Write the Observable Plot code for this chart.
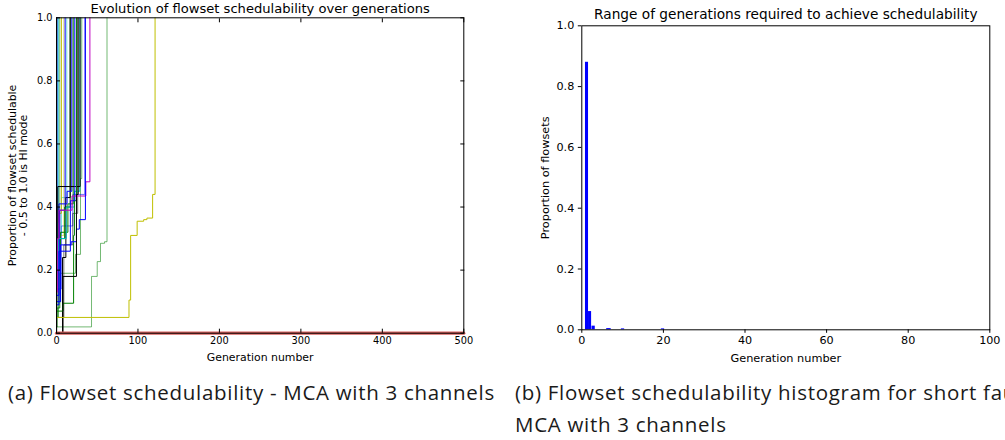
<!DOCTYPE html>
<html><head><meta charset="utf-8">
<script src="https://cdn.jsdelivr.net/npm/d3@7"></script>
<script src="https://cdn.jsdelivr.net/npm/@observablehq/plot@0.6"></script>
<style>
body{margin:0;background:#fff;}
#wrap{position:relative;width:1005px;height:440px;overflow:hidden;background:#fff;}
#left{position:absolute;left:0;top:0;}
#right{position:absolute;left:505px;top:0;}
#wrap svg, #wrap svg text{font-family:"DejaVu Sans", sans-serif !important;}
.cap{position:absolute;font-family:"Open Sans", sans-serif;font-size:20.5px;letter-spacing:0.7px;line-height:20px;color:#1a1a1a;white-space:nowrap;}
</style></head>
<body><div id="wrap"><div id="left"></div><div id="right"></div>
<div class="cap" style="left:8px;top:382px">(a) Flowset schedulability - MCA with 3 channels</div>
<div class="cap" style="left:515px;top:382px">(b) Flowset schedulability histogram for short fault</div>
<div class="cap" style="left:515px;top:414px">MCA with 3 channels</div>
</div>
<script>
// ---------- left chart data ----------
const titleL = "Evolution of flowset schedulability over generations";
const xLabel = "Generation number";
const yLabelL = "Proportion of flowset schedulable\n- 0.5 to 1.0 is HI mode";
const xTicksL = [0, 100, 200, 300, 400, 500];
const yTicks = [0, 0.2, 0.4, 0.6, 0.8, 1.0];

// opaque runs
const runColors = ["m","k","b","y","c","b","g","k","b","g","c","k","g","b","m","b","k","y"];
const runGens = [
  [0, 0.3], [0, 0.2], [0, 0.5], [0, 2, 6], [0, 1, 2], [0, 4, 10.6], [0, 2, 10, 16.8],
  [0, 7.4, 11.5, 16.8], [0, 3, 13, 18.8], [0, 5, 14, 20.5], [0, 2, 12, 22, 28.6],
  [0, 1.6, 29], [0, 8, 21, 22, 24.6], [0, 3, 17, 22.5], [0, 1, 3, 19, 36, 41],
  [0, 5, 18, 24.5, 28, 35.5], [0, 8, 24.5, 26.6],
  [0, 89, 91, 99, 107, 111, 118, 121]
];
const runProps = [
  [0.1, 1], [0, 1], [0.3, 1], [0.29, 0.38, 1], [0.25, 0.35, 1], [0.2, 0.39, 1], [0.05, 0.3, 0.4, 1],
  [0, 0.24, 0.43, 1], [0.12, 0.41, 0.45, 1], [0.1, 0.32, 0.41, 1], [0.2, 0.3, 0.4, 0.45, 1],
  [0.3, 0.465, 1], [0.07, 0.095, 0.31, 0.42, 1], [0.09, 0.26, 0.42, 1], [0.13, 0.3, 0.39, 0.435, 0.48, 1],
  [0.1, 0.28, 0.29, 0.33, 0.36, 1], [0, 0.18, 0.44, 1],
  [0.05, 0.105, 0.31, 0.355, 0.36, 0.365, 0.44, 1]
];
// translucent runs
const fadedColors = ["g","g","b","k","c","y","g"];
const fadedGens = [
  [0, 1, 4], [0, 4, 23.3, 29.5, 31], [0, 6, 20, 34.7], [0, 9, 20, 26], [0, 1, 6, 12.6], [0, 3, 9],
  [0, 43, 50, 54, 59, 62]
];
const fadedProps = [
  [0.02, 0.08, 1], [0.08, 0.19, 0.25, 0.49, 1], [0.14, 0.34, 0.44, 1], [0.05, 0.28, 0.38, 1],
  [0.15, 0.31, 0.43, 1], [0.2, 0.31, 1],
  [0.02, 0.18, 0.227, 0.285, 0.29, 1]
];
// never schedulable
const neverGens = [0, 500];
const neverProps = [0, 0];

// ---------- right chart data ----------
const titleR = "Range of generations required to achieve schedulability";
const yLabelR = "Proportion of flowsets";
const xTicksR = [0, 20, 40, 60, 80, 100];
const binLo = [0.9, 1.65, 2.5, 6.1, 9.7, 19.5];
const binHi = [1.65, 2.4, 3.3, 7.2, 10.5, 20.3];
const binProp = [0.88, 0.06, 0.012, 0.004, 0.003, 0.003];

// ---------- build ----------
const palette = {b:"#0000ff", g:"#008000", r:"#ff0000", c:"#00bfbf", m:"#bf00bf", y:"#bfbf00", k:"#000000"};
function rows(gens, props, colors) {
  const out = [];
  gens.forEach((g, i) => g.forEach((x, j) => out.push({run: i, gen: x, prop: props[i][j], color: palette[colors[i]]})));
  return out;
}
const opaqueRows = rows(runGens, runProps, runColors);
const fadedRows = rows(fadedGens, fadedProps, fadedColors);
const neverRows = neverGens.map((g, i) => ({gen: g, prop: neverProps[i]}));

const blank = () => "";

const left = Plot.plot({
  width: 500, height: 370,
  marginLeft: 56, marginRight: 36.7, marginTop: 17.3, marginBottom: 37.3,
  style: "background: white; color: black; font-size: 10px; overflow: visible;",
  x: {domain: [0, 500]},
  y: {domain: [0, 1]},
  color: {type: "identity"},
  marks: [
    Plot.line(fadedRows, {x: "gen", y: "prop", z: "run", stroke: "color", strokeOpacity: 0.55, strokeWidth: 1, curve: "step-after"}),
    Plot.line(opaqueRows, {x: "gen", y: "prop", z: "run", stroke: "color", strokeWidth: 1, curve: "step-after"}),
    Plot.line(neverRows, {x: "gen", y: "prop", stroke: "#d9625f", strokeWidth: 3.2}),
    Plot.frame({stroke: "black", strokeWidth: 1}),
    Plot.axisX(xTicksL, {anchor: "bottom", tickSize: 0, tickPadding: 3.5, label: null, fontSize: 9.8}),
    Plot.axisX(xTicksL, {anchor: "bottom", tickSize: -4, tickFormat: blank, label: null}),
    Plot.axisX(xTicksL, {anchor: "top", tickSize: -4, tickFormat: blank, label: null}),
    Plot.axisY(yTicks, {anchor: "left", tickSize: 0, tickPadding: 4, tickFormat: ".1f", label: null, fontSize: 9.8}),
    Plot.axisY(yTicks, {anchor: "left", tickSize: -4, tickFormat: blank, label: null}),
    Plot.axisY(yTicks, {anchor: "right", tickSize: -4, tickFormat: blank, label: null}),
    Plot.text([titleL], {frameAnchor: "top", lineAnchor: "middle", dy: -9.3, fontSize: 13.1}),
    Plot.text([xLabel], {frameAnchor: "bottom", lineAnchor: "middle", dy: 24, fontSize: 10.9}),
    Plot.text([yLabelL], {frameAnchor: "left", textAnchor: "middle", lineAnchor: "middle", rotate: -90, dx: -38.5, fontSize: 10.9, lineHeight: 1.06})
  ]
});
document.getElementById("left").append(left);

const bins = binLo.map((lo, i) => ({lo, hi: binHi[i], prop: binProp[i]}));
const right = Plot.plot({
  width: 500, height: 370,
  marginLeft: 76.3, marginRight: 15.7, marginTop: 25.3, marginBottom: 40.7,
  style: "background: white; color: black; font-size: 10px; overflow: visible;",
  x: {domain: [0, 100]},
  y: {domain: [0, 1]},
  marks: [
    Plot.rectY(bins, {x1: "lo", x2: "hi", y: "prop", fill: "#0000ff"}),
    Plot.frame({stroke: "black", strokeWidth: 1}),
    Plot.axisX(xTicksR, {anchor: "bottom", tickSize: 3.5, tickPadding: 2.5, label: null, fontSize: 11.2}),
    Plot.axisY(yTicks, {anchor: "left", tickSize: 3.5, tickPadding: 4, tickFormat: ".1f", label: null, fontSize: 11.2}),
    Plot.text([titleR], {frameAnchor: "top", lineAnchor: "middle", dy: -11.3, fontSize: 13.7}),
    Plot.text([xLabel], {frameAnchor: "bottom", lineAnchor: "middle", dy: 28.4, fontSize: 11.3}),
    Plot.text([yLabelR], {frameAnchor: "left", textAnchor: "middle", lineAnchor: "middle", rotate: -90, dx: -36.3, fontSize: 11.3})
  ]
});
document.getElementById("right").append(right);
</script>
</body></html>
